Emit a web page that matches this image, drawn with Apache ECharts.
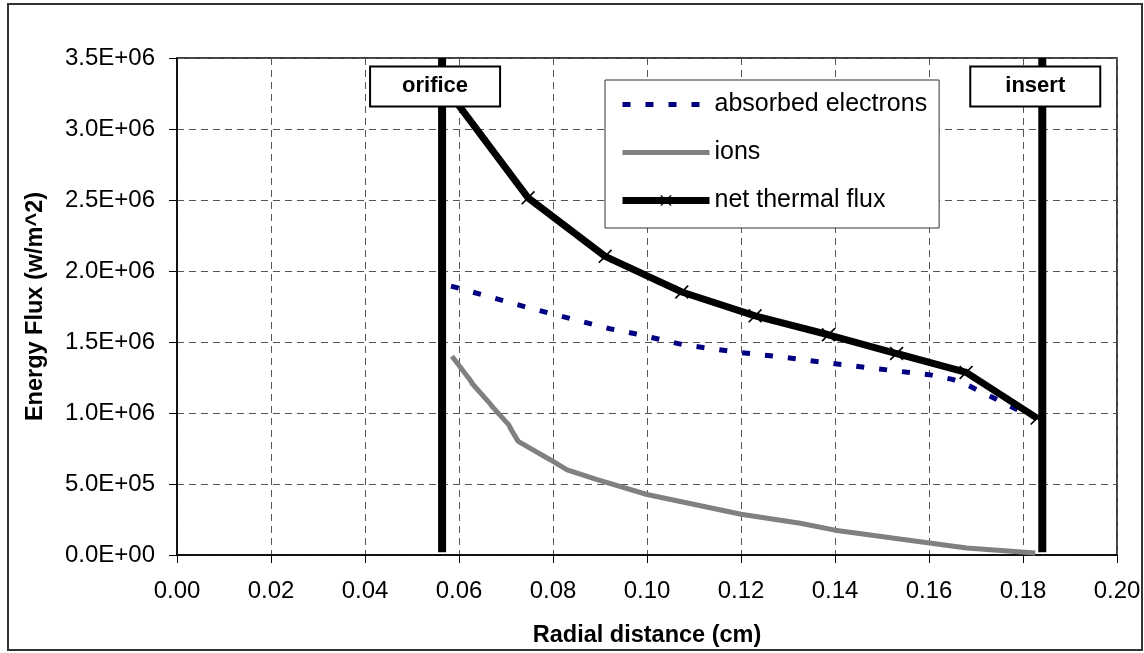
<!DOCTYPE html>
<html>
<head>
<meta charset="utf-8">
<title>Energy Flux</title>
<script src="https://cdn.jsdelivr.net/npm/echarts@6/dist/echarts.min.js"></script>
<style>
  html, body { margin: 0; padding: 0; background: #fff; }
  #chart { width: 1144px; height: 653px; }
</style>
</head>
<body>
<div id="chart"></div>
<script>
// net thermal flux (markers)
var netX = [0.0592, 0.0747, 0.0911, 0.1074, 0.1230, 0.1386, 0.1531, 0.1679, 0.1830]
var netY = [3.20e6, 2.515e6, 2.103e6, 1.852e6, 1.684e6, 1.551e6, 1.419e6, 1.286e6, 0.964e6]

// absorbed electrons
var elecX = [0.0583, 0.0757, 0.0921, 0.0975, 0.1077, 0.1183, 0.1298, 0.1394, 0.1538, 0.1600, 0.1650, 0.1680, 0.1790, 0.1830]
var elecY = [1.894e6, 1.733e6, 1.593e6, 1.558e6, 1.481e6, 1.432e6, 1.390e6, 1.349e6, 1.293e6, 1.270e6, 1.237e6, 1.200e6, 1.020e6, 0.964e6]

// ions
var ionX = [0.0585, 0.0622, 0.0630, 0.0626, 0.0665, 0.0672, 0.0668, 0.0705, 0.0712, 0.0708, 0.0726, 0.0724, 0.0794, 0.0830, 0.0894, 0.1000, 0.1200, 0.1326, 0.1400, 0.1538, 0.1680, 0.1826]
var ionY = [1.400e6, 1.240e6, 1.200e6, 1.215e6, 1.070e6, 1.040e6, 1.055e6, 0.920e6, 0.880e6, 0.900e6, 0.800e6, 0.810e6, 0.671e6, 0.600e6, 0.531e6, 0.426e6, 0.287e6, 0.224e6, 0.175e6, 0.112e6, 0.050e6, 0.014e6]

// boundary markers
var boundaryNames = ['orifice', 'insert']
var boundaryX = [0.0564, 0.1841]
var boundaryY = [0.02e6, 3.5e6]
var boundaryLabelY = 3.3e6

var seriesNames = ['absorbed electrons', 'ions', 'net thermal flux']

function pairs(xs, ys) {
  var out = []
  for (var i = 0; i < xs.length; i++) out.push([xs[i], ys[i]])
  return out
}

// 3500000 -> 3.5E+06
function sci(v) {
  var parts = v.toExponential(1).split('e')
  var exp = parseInt(parts[1], 10)
  var sign = exp < 0 ? '-' : '+'
  var abs = Math.abs(exp)
  return parts[0] + 'E' + sign + (abs < 10 ? '0' : '') + abs
}

var font = 'Liberation Sans'
var chart = echarts.init(document.getElementById('chart'))

var series = [
  {
    name: seriesNames[0],
    type: 'line',
    data: pairs(elecX, elecY),
    symbol: 'none',
    lineStyle: { color: '#000080', width: 5, type: [8, 15] },
    itemStyle: { color: '#000080' },
    z: 3
  },
  {
    name: seriesNames[1],
    type: 'line',
    data: pairs(ionX, ionY),
    symbol: 'none',
    lineStyle: { color: '#808080', width: 5 },
    itemStyle: { color: '#808080' },
    z: 3
  },
  {
    name: seriesNames[2],
    type: 'line',
    data: pairs(netX, netY),
    symbol: 'path://M0,1L1,0L6,5L11,0L12,1L7,6L12,11L11,12L6,7L1,12L0,11L5,6Z',
    symbolSize: 14,
    showAllSymbol: true,
    lineStyle: { color: '#000', width: 7 },
    itemStyle: { color: '#000' },
    z: 4
  }
]

boundaryX.forEach(function (bx, i) {
  series.push({
    name: boundaryNames[i] + '-line',
    type: 'line',
    data: [[bx, boundaryY[0]], [bx, boundaryY[1]]],
    symbol: 'none',
    lineStyle: { color: '#000', width: 8 },
    silent: true,
    z: 5
  })
  series.push({
    name: boundaryNames[i] + '-label',
    type: 'scatter',
    data: [[bx, boundaryLabelY]],
    symbolSize: 0,
    silent: true,
    z: 10,
    itemStyle: { opacity: 1 },
    label: {
      show: true,
      position: 'inside',
      offset: [-7, 0],
      formatter: boundaryNames[i],
      fontFamily: font,
      fontWeight: 'bold',
      fontSize: 22,
      color: '#000',
      opacity: 1,
      textBorderWidth: 0,
      textShadowBlur: 0,
      backgroundColor: '#fff',
      borderColor: '#000',
      borderWidth: 2,
      width: 128,
      height: 38,
      lineHeight: 38,
      align: 'center',
      verticalAlign: 'middle'
    }
  })
})

chart.setOption({
  animation: false,
  textStyle: { fontFamily: font },
  graphic: [{
    type: 'rect',
    shape: { x: 8, y: 4, width: 1134, height: 646 },
    style: { fill: 'none', stroke: '#333', lineWidth: 2 },
    silent: true
  }],
  grid: {
    left: 177,
    right: 27,
    top: 58,
    bottom: 94,
    show: true,
    borderColor: '#000',
    borderWidth: 1.5,
    backgroundColor: 'transparent'
  },
  legend: {
    data: [
      { name: seriesNames[0], itemStyle: { opacity: 0 }, lineStyle: { width: 5 } },
      { name: seriesNames[1], itemStyle: { opacity: 0 }, lineStyle: { width: 5 } },
      { name: seriesNames[2], lineStyle: { width: 7 } }
    ],
    orient: 'vertical',
    left: 605,
    top: 80,
    padding: [12, 12, 15, 14],
    itemWidth: 87,
    itemHeight: 14,
    itemGap: 23,
    borderColor: '#333',
    borderWidth: 1,
    backgroundColor: '#fff',
    textStyle: { fontFamily: font, fontSize: 25, color: '#000' },
    z: 8
  },
  xAxis: {
    type: 'value',
    min: 0,
    max: 0.2,
    interval: 0.02,
    name: 'Radial distance (cm)',
    nameLocation: 'middle',
    nameGap: 69,
    nameTextStyle: { fontFamily: font, fontWeight: 'bold', fontSize: 23.5, color: '#000' },
    axisLine: { lineStyle: { color: '#000', width: 1.5 } },
    axisTick: { show: true, length: 8, lineStyle: { color: '#000' } },
    axisLabel: {
      margin: 24,
      fontSize: 24,
      color: '#000',
      formatter: function (v) { return v.toFixed(2) }
    },
    splitLine: { show: true, lineStyle: { color: '#555', type: [7, 5], width: 1 } }
  },
  yAxis: {
    type: 'value',
    min: 0,
    max: 3.5e6,
    interval: 5e5,
    name: 'Energy Flux (w/m^2)',
    nameLocation: 'middle',
    nameGap: 129,
    nameTextStyle: { fontFamily: font, fontWeight: 'bold', fontSize: 23.5, color: '#000' },
    axisLine: { show: true, lineStyle: { color: '#000', width: 1.5 } },
    axisTick: { show: true, length: 8, lineStyle: { color: '#000' } },
    axisLabel: {
      margin: 22,
      fontSize: 24,
      color: '#000',
      formatter: sci
    },
    splitLine: { show: true, lineStyle: { color: '#555', type: [7, 5], width: 1 } }
  },
  series: series
})
</script>
</body>
</html>
